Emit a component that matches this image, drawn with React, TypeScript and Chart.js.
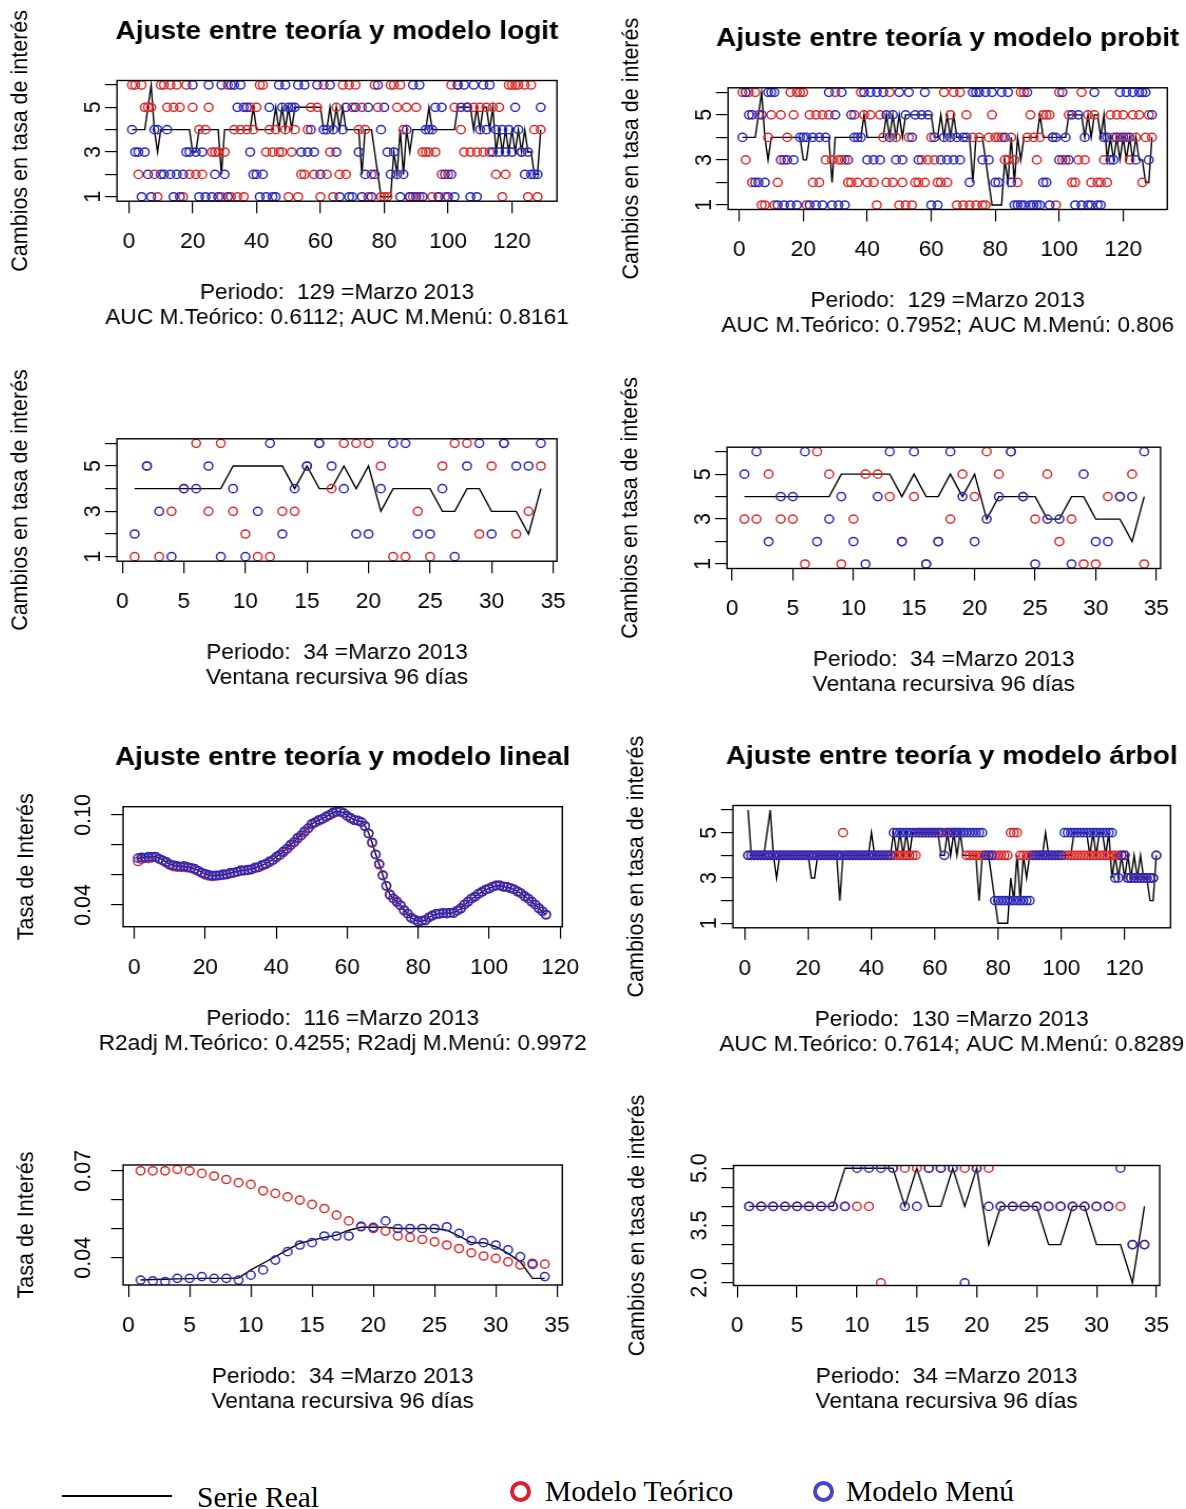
import React, { useEffect, useRef } from 'react';
import { Chart, registerables } from 'chart.js';

Chart.register(...registerables);

// ---------------- data ----------------
// Periods 1..129: real series (changes in interest rate)
const realSerie129 = [
  4, 4, 4, 4, 4, 5, 6, 4, 3, 4,
  4, 4, 4, 4, 4, 4, 4, 4, 4, 3,
  3, 4, 4, 4, 4, 4, 4, 4, 2, 4,
  4, 4, 4, 4, 4, 4, 4, 4, 5, 4,
  4, 4, 4, 4, 4, 5, 4, 5, 4, 5,
  4, 5, 5, 5, 5, 5, 5, 5, 5, 5,
  4, 4, 5, 4, 5, 4, 5, 4, 4, 4,
  4, 4, 2, 4, 4, 4, 3, 2, 1, 1,
  1, 1, 3, 2, 4, 2, 4, 3, 4, 4,
  4, 4, 4, 5, 4, 4, 4, 4, 4, 4,
  4, 4, 5, 5, 5, 5, 5, 4, 5, 4,
  5, 5, 4, 5, 3, 4, 3, 4, 3, 4,
  3, 4, 3, 4, 3, 3, 2, 2, 4,
];
const logitTeorico = [
  6, 6, 2, 6, 5, 5, 5, 2, 1, 6,
  6, 5, 6, 5, 6, 5, 1, 6, 2, 5,
  2, 4, 2, 4, 5, 3, 3, 3, 1, 3,
  6, 1, 4, 1, 4, 1, 4, 5, 4, 5,
  6, 6, 3, 4, 3, 4, 3, 3, 4, 1,
  3, 4, 1, 2, 2, 4, 5, 2, 5, 1,
  6, 2, 3, 1, 5, 2, 6, 2, 6, 5,
  6, 4, 5, 4, 1, 2, 6, 5, 1, 1,
  1, 6, 6, 5, 6, 4, 5, 1, 1, 5,
  1, 3, 3, 3, 1, 3, 1, 2, 1, 2,
  6, 5, 6, 4, 3, 5, 3, 5, 3, 5,
  3, 5, 3, 5, 2, 5, 1, 2, 6, 6,
  6, 6, 3, 6, 1, 6, 4, 1, 4,
];
const logitMenu = [
  4, 3, 3, 1, 3, 2, 1, 4, 4, 2,
  2, 4, 2, 1, 2, 1, 2, 3, 3, 6,
  3, 1, 3, 1, 6, 1, 2, 1, 6, 2,
  1, 6, 6, 5, 6, 5, 5, 3, 2, 2,
  1, 2, 1, 5, 1, 1, 6, 5, 6, 5,
  5, 5, 6, 3, 6, 3, 4, 3, 6, 2,
  4, 4, 6, 4, 3, 1, 4, 5, 1, 1,
  5, 3, 1, 2, 5, 1, 2, 6, 4, 5,
  3, 2, 3, 2, 1, 2, 4, 1, 6, 1,
  6, 1, 4, 4, 4, 5, 1, 5, 2, 1,
  2, 1, 6, 5, 6, 5, 1, 6, 1, 4,
  6, 4, 6, 3, 4, 3, 4, 3, 4, 3,
  5, 4, 3, 2, 3, 2, 2, 2, 5,
];
const probitTeorico = [
  6, 3, 6, 2, 6, 5, 1, 1, 4, 5,
  1, 2, 5, 3, 4, 6, 5, 6, 6, 6,
  1, 5, 2, 5, 2, 5, 3, 5, 3, 6,
  3, 3, 3, 2, 2, 5, 2, 6, 5, 2,
  5, 2, 1, 5, 4, 2, 6, 2, 4, 1,
  2, 1, 4, 1, 2, 2, 3, 2, 3, 4,
  3, 2, 2, 6, 2, 5, 6, 1, 6, 1,
  5, 1, 4, 1, 4, 1, 1, 4, 5, 4,
  4, 4, 3, 3, 4, 3, 2, 6, 6, 4,
  5, 4, 3, 4, 5, 5, 5, 4, 1, 6,
  3, 3, 5, 2, 2, 3, 6, 3, 5, 2,
  5, 2, 2, 3, 2, 5, 4, 5, 4, 5,
  4, 3, 5, 4, 5, 2, 4, 5, 4,
];
const probitMenu = [
  4, 6, 5, 5, 2, 2, 5, 2, 6, 6,
  6, 1, 3, 1, 3, 1, 3, 1, 4, 4,
  4, 1, 4, 1, 4, 1, 4, 6, 1, 5,
  1, 6, 1, 3, 5, 4, 4, 4, 6, 3,
  6, 3, 6, 3, 6, 5, 4, 5, 3, 6,
  3, 5, 6, 4, 5, 3, 5, 6, 5, 1,
  4, 1, 3, 4, 3, 4, 3, 4, 3, 4,
  4, 2, 6, 6, 6, 3, 6, 3, 6, 2,
  2, 6, 4, 6, 2, 1, 1, 1, 1, 6,
  1, 1, 1, 1, 2, 2, 1, 4, 4, 3,
  6, 4, 3, 5, 1, 5, 1, 4, 1, 1,
  6, 1, 1, 4, 4, 3, 3, 4, 6, 4,
  6, 4, 6, 3, 6, 6, 6, 3, 5,
];

// Recursive window, 34 periods
const realVentana34 = [4, 4, 4, 4, 4, 4, 4, 4, 5, 5, 5, 5, 5, 4, 5, 4, 4, 5, 4, 5, 3, 4, 4, 4, 4, 3, 3, 4, 4, 3, 3, 3, 2, 4];
const logitVentTeorico = [1, 5, 1, 3, 4, 6, 3, 6, 3, 2, 1, 1, 3, 3, 5, 6, 4, 6, 6, 6, 5, 1, 1, 3, 1, 5, 6, 6, 2, 5, 6, 2, 3, 5];
const logitVentMenu = [2, 5, 3, 1, 4, 4, 5, 1, 4, 1, 3, 6, 2, 4, 5, 6, 5, 4, 2, 2, 4, 6, 6, 2, 2, 4, 1, 5, 6, 2, 6, 5, 5, 6];
const probitVentTeorico = [3, 3, 5, 3, 3, 1, 6, 5, 1, 3, 5, 5, 4, 2, 4, 1, 2, 3, 5, 4, 6, 5, 6, 4, 3, 5, 2, 3, 1, 1, 4, 4, 5, 1];
const probitVentMenu = [5, 6, 2, 4, 4, 6, 2, 3, 4, 2, 1, 4, 6, 2, 6, 1, 2, 6, 4, 2, 3, 4, 6, 4, 1, 3, 3, 1, 5, 2, 2, 4, 4, 6];

// Interest rate level, 116 periods
const tasaReal116 = [
  0.0705, 0.0715, 0.0720, 0.0718, 0.0722, 0.0725, 0.0712, 0.0700, 0.0685, 0.0672,
  0.0662, 0.0658, 0.0660, 0.0657, 0.0655, 0.0650, 0.0640, 0.0632, 0.0618, 0.0605,
  0.0598, 0.0594, 0.0596, 0.0600, 0.0602, 0.0606, 0.0612, 0.0618, 0.0625, 0.0630,
  0.0632, 0.0633, 0.0640, 0.0648, 0.0655, 0.0665, 0.0676, 0.0688, 0.0703, 0.0720,
  0.0738, 0.0755, 0.0778, 0.0800, 0.0822, 0.0845, 0.0868, 0.0890, 0.0915, 0.0940,
  0.0955, 0.0965, 0.0978, 0.0988, 0.1002, 0.1015, 0.1025, 0.1022, 0.1015, 0.0995,
  0.0978, 0.0968, 0.0962, 0.0955, 0.0925, 0.0880, 0.0815, 0.0740, 0.0670, 0.0600,
  0.0525, 0.0470, 0.0440, 0.0422, 0.0395, 0.0365, 0.0340, 0.0315, 0.0300, 0.0290,
  0.0292, 0.0298, 0.0315, 0.0330, 0.0338, 0.0342, 0.0345, 0.0344, 0.0346, 0.0348,
  0.0360, 0.0378, 0.0400, 0.0422, 0.0440, 0.0456, 0.0472, 0.0488, 0.0500, 0.0510,
  0.0520, 0.0530, 0.0528, 0.0522, 0.0518, 0.0512, 0.0502, 0.0490, 0.0475, 0.0458,
  0.0440, 0.0422, 0.0400, 0.0378, 0.0355, 0.0335,
];
const tasaTeorico116 = [
  0.0690, 0.0705, 0.0712, 0.0710, 0.0716, 0.0720, 0.0706, 0.0694, 0.0680, 0.0666,
  0.0656, 0.0652, 0.0653, 0.0650, 0.0648, 0.0644, 0.0634, 0.0626, 0.0612, 0.0600,
  0.0593, 0.0590, 0.0592, 0.0596, 0.0598, 0.0602, 0.0608, 0.0614, 0.0620, 0.0626,
  0.0628, 0.0630, 0.0636, 0.0644, 0.0650, 0.0660, 0.0670, 0.0682, 0.0698, 0.0714,
  0.0732, 0.0750, 0.0772, 0.0794, 0.0816, 0.0840, 0.0862, 0.0884, 0.0910, 0.0934,
  0.0950, 0.0960, 0.0972, 0.0984, 0.0998, 0.1010, 0.1020, 0.1020, 0.1012, 0.0994,
  0.0976, 0.0966, 0.0960, 0.0952, 0.0922, 0.0878, 0.0812, 0.0738, 0.0668, 0.0600,
  0.0526, 0.0472, 0.0442, 0.0425, 0.0398, 0.0368, 0.0342, 0.0318, 0.0302, 0.0293,
  0.0294, 0.0300, 0.0316, 0.0332, 0.0340, 0.0344, 0.0346, 0.0346, 0.0348, 0.0350,
  0.0362, 0.0380, 0.0402, 0.0424, 0.0442, 0.0458, 0.0474, 0.0490, 0.0502, 0.0512,
  0.0522, 0.0532, 0.0530, 0.0524, 0.0520, 0.0514, 0.0504, 0.0492, 0.0477, 0.0460,
  0.0442, 0.0424, 0.0402, 0.0380, 0.0357, 0.0338,
];
const tasaMenu116 = [
  0.0712, 0.0718, 0.0716, 0.0722, 0.0720, 0.0722, 0.0708, 0.0698, 0.0688, 0.0670,
  0.0665, 0.0660, 0.0656, 0.0660, 0.0652, 0.0648, 0.0642, 0.0628, 0.0615, 0.0608,
  0.0600, 0.0596, 0.0598, 0.0598, 0.0605, 0.0604, 0.0615, 0.0616, 0.0622, 0.0632,
  0.0630, 0.0636, 0.0638, 0.0650, 0.0652, 0.0668, 0.0674, 0.0690, 0.0700, 0.0722,
  0.0735, 0.0758, 0.0775, 0.0802, 0.0820, 0.0848, 0.0865, 0.0893, 0.0912, 0.0942,
  0.0952, 0.0968, 0.0975, 0.0990, 0.1000, 0.1018, 0.1022, 0.1024, 0.1012, 0.0992,
  0.0980, 0.0965, 0.0964, 0.0952, 0.0928, 0.0876, 0.0818, 0.0736, 0.0674, 0.0596,
  0.0528, 0.0466, 0.0444, 0.0418, 0.0398, 0.0362, 0.0343, 0.0312, 0.0302, 0.0288,
  0.0295, 0.0296, 0.0318, 0.0328, 0.0340, 0.0340, 0.0347, 0.0342, 0.0348, 0.0346,
  0.0363, 0.0375, 0.0403, 0.0420, 0.0443, 0.0454, 0.0475, 0.0486, 0.0503, 0.0508,
  0.0523, 0.0528, 0.0530, 0.0520, 0.0520, 0.0510, 0.0504, 0.0488, 0.0477, 0.0456,
  0.0443, 0.0420, 0.0402, 0.0376, 0.0358, 0.0333,
];

// Tree model, 130 periods
const realSerie130 = [
  6, 4, 4, 4, 4, 4, 5, 6, 4, 3,
  4, 4, 4, 4, 4, 4, 4, 4, 4, 4,
  3, 3, 4, 4, 4, 4, 4, 4, 4, 2,
  4, 4, 4, 4, 4, 4, 4, 4, 4, 5,
  4, 4, 4, 4, 4, 4, 5, 4, 5, 4,
  5, 4, 5, 5, 5, 5, 5, 5, 5, 5,
  5, 4, 4, 5, 4, 5, 4, 5, 4, 4,
  4, 4, 4, 2, 4, 4, 4, 3, 2, 1,
  1, 1, 1, 3, 2, 4, 2, 4, 3, 4,
  4, 4, 4, 4, 5, 4, 4, 4, 4, 4,
  4, 4, 4, 5, 5, 5, 5, 5, 4, 5,
  4, 5, 5, 4, 5, 3, 4, 3, 4, 3,
  4, 3, 4, 3, 4, 3, 3, 2, 2, 4,
];
const arbolTeorico = [
  4, 4, 4, 4, 4, 4, 4, 4, 4, 4,
  4, 4, 4, 4, 4, 4, 4, 4, 4, 4,
  4, 4, 4, 4, 4, 4, 4, 4, 4, 4,
  5, 4, 4, 4, 4, 4, 4, 4, 4, 4,
  4, 4, 4, 4, 4, 4, 4, 4, 4, 4,
  4, 4, 4, 4, 5, 5, 5, 5, 5, 5,
  5, 5, 5, 5, 5, 5, 5, 5, 5, 4,
  4, 4, 4, 4, 4, 4, 4, 4, 4, 4,
  4, 4, 4, 5, 5, 5, 4, 4, 4, 4,
  4, 4, 4, 4, 4, 4, 4, 4, 4, 4,
  4, 4, 4, 4, 4, 4, 4, 4, 4, 4,
  4, 4, 4, 4, 4, 4, 4, 4, 4, 4,
  3, 3, 3, 3, 3, 3, 3, 3, 3, 4,
];
const arbolMenu = [
  4, 4, 4, 4, 4, 4, 4, 4, 4, 4,
  4, 4, 4, 4, 4, 4, 4, 4, 4, 4,
  4, 4, 4, 4, 4, 4, 4, 4, 4, 4,
  4, 4, 4, 4, 4, 4, 4, 4, 4, 4,
  4, 4, 4, 4, 4, 4, 5, 5, 5, 5,
  5, 5, 5, 5, 5, 5, 5, 5, 5, 5,
  5, 5, 4, 5, 5, 5, 5, 5, 5, 5,
  5, 5, 5, 5, 5, 4, 4, 4, 2, 2,
  2, 2, 2, 2, 2, 2, 2, 2, 2, 2,
  4, 4, 4, 4, 4, 4, 4, 4, 4, 4,
  5, 5, 5, 5, 5, 5, 5, 5, 5, 5,
  5, 5, 5, 5, 5, 5, 3, 3, 4, 4,
  3, 3, 3, 3, 3, 3, 3, 3, 3, 4,
];

// Interest rate window, 34 periods
const tasaVentReal34 = [
  0.0323, 0.0325, 0.0326, 0.0327, 0.0328, 0.0329, 0.0329, 0.0329, 0.0330, 0.0358,
  0.0381, 0.0404, 0.0427, 0.0450, 0.0461, 0.0470, 0.0478, 0.0495, 0.0505, 0.0505,
  0.0505, 0.0501, 0.0501, 0.0501, 0.0501, 0.0495, 0.0475, 0.0452, 0.0452, 0.0438,
  0.0415, 0.0386, 0.0329, 0.0329,
];
const tasaVentTeorico34 = [
  0.0700, 0.0700, 0.0700, 0.0705, 0.0700, 0.0691, 0.0682, 0.0670, 0.0659, 0.0653,
  0.0631, 0.0622, 0.0610, 0.0599, 0.0584, 0.0570, 0.0547, 0.0527, 0.0509, 0.0501,
  0.0492, 0.0475, 0.0470, 0.0463, 0.0455, 0.0444, 0.0432, 0.0417, 0.0406, 0.0398,
  0.0386, 0.0375, 0.0381, 0.0378,
];
const tasaVentMenu34 = [
  0.0323, 0.0320, 0.0318, 0.0329, 0.0329, 0.0335, 0.0329, 0.0329, 0.0323, 0.0340,
  0.0358, 0.0392, 0.0421, 0.0444, 0.0452, 0.0475, 0.0475, 0.0475, 0.0507, 0.0505,
  0.0527, 0.0501, 0.0501, 0.0501, 0.0501, 0.0507, 0.0484, 0.0459, 0.0452, 0.0444,
  0.0427, 0.0404, 0.0377, 0.0335,
];

// Tree model window, 34 periods
const arbolVentTeorico34 = [4, 4, 4, 4, 4, 4, 4, 4, 4, 4, 4, 2, 5, 5, 5, 5, 5, 5, 5, 5, 5, 4, 4, 4, 4, 4, 4, 4, 4, 4, 4, 4, 3, 3];
const arbolVentMenu34 = [4, 4, 4, 4, 4, 4, 4, 4, 4, 5, 5, 5, 5, 4, 4, 5, 5, 5, 2, 5, 4, 4, 4, 4, 4, 4, 4, 4, 4, 4, 4, 5, 3, 3];

// ticks
const xTicksLargo = [0, 20, 40, 60, 80, 100, 120];
const xTicksCorto = [0, 5, 10, 15, 20, 25, 30, 35];
const yTicksCambios = [1, 2, 3, 4, 5, 6];
const yLabelsCambios = ['1', '', '3', '', '5', ''];
const yTicksTasa = [0.04, 0.06, 0.08, 0.10];
const yLabelsTasa = ['0.04', '', '', '0.10'];
const yTicksTasaVent = [0.04, 0.05, 0.06, 0.07];
const yLabelsTasaVent = ['0.04', '', '', '0.07'];
const yTicksArbolVent = [2, 2.5, 3, 3.5, 4, 4.5, 5];
const yLabelsArbolVent = ['2.0', '', '', '3.5', '', '', '5.0'];

// ---------------- styling / layout ----------------
const SX = 1.055; // horizontal stretch of the original picture
const SANS = "'Liberation Sans', Arial, Helvetica, sans-serif";
const SERIF = "'Liberation Serif', 'Times New Roman', Times, serif";
const BASE = 21.5;
const RED = '#dc2a2a';
const BLUE = '#2a2ac0';

type PanelSpec = {
  box: [number, number, number, number];
  canvasRight: number;
  xMin: number; xMax: number; xTicks: number[];
  yMin: number; yMax: number; yTicks: number[]; yLabels: string[];
  real: number[]; teo: number[]; menu: number[];
  title?: string; ylabel: string; sub: [string, string];
};

const CAMBIOS = 'Cambios en tasa de interés';
const TASA = 'Tasa de Interés';
const VENTANA = 'Ventana recursiva 96 días';

const panels: PanelSpec[] = [
  {
    box: [117, 80.5, 557, 201.2], canvasRight: 600,
    xMin: -3.7, xMax: 134.1, xTicks: xTicksLargo,
    yMin: 0.8, yMax: 6.2, yTicks: yTicksCambios, yLabels: yLabelsCambios,
    real: realSerie129, teo: logitTeorico, menu: logitMenu,
    title: 'Ajuste entre teoría y modelo logit', ylabel: CAMBIOS,
    sub: ['Periodo:  129 =Marzo 2013', 'AUC M.Teórico: 0.6112; AUC M.Menú: 0.8161'],
  },
  {
    box: [728, 87.8, 1167, 209.5], canvasRight: 1186,
    xMin: -3.5, xMax: 133.8, xTicks: xTicksLargo,
    yMin: 0.8, yMax: 6.2, yTicks: yTicksCambios, yLabels: yLabelsCambios,
    real: realSerie129, teo: probitTeorico, menu: probitMenu,
    title: 'Ajuste entre teoría y modelo probit', ylabel: CAMBIOS,
    sub: ['Periodo:  129 =Marzo 2013', 'AUC M.Teórico: 0.7952; AUC M.Menú: 0.806'],
  },
  {
    box: [117, 438.8, 557, 561.2], canvasRight: 600,
    xMin: -0.43, xMax: 35.31, xTicks: xTicksCorto,
    yMin: 0.8, yMax: 6.2, yTicks: yTicksCambios, yLabels: yLabelsCambios,
    real: realVentana34, teo: logitVentTeorico, menu: logitVentMenu,
    ylabel: CAMBIOS, sub: ['Periodo:  34 =Marzo 2013', VENTANA],
  },
  {
    box: [727, 447.2, 1167, 568.5], canvasRight: 1186,
    xMin: -0.43, xMax: 35.35, xTicks: xTicksCorto,
    yMin: 0.8, yMax: 6.2, yTicks: yTicksCambios, yLabels: yLabelsCambios,
    real: realVentana34, teo: probitVentTeorico, menu: probitVentMenu,
    ylabel: CAMBIOS, sub: ['Periodo:  34 =Marzo 2013', VENTANA],
  },
  {
    box: [123, 806.7, 562, 926.7], canvasRight: 600,
    xMin: -3.18, xMax: 120.6, xTicks: xTicksLargo,
    yMin: 0.0255, yMax: 0.1055, yTicks: yTicksTasa, yLabels: yLabelsTasa,
    real: tasaReal116, teo: tasaTeorico116, menu: tasaMenu116,
    title: 'Ajuste entre teoría y modelo lineal', ylabel: TASA,
    sub: ['Periodo:  116 =Marzo 2013', 'R2adj M.Teórico: 0.4255; R2adj M.Menú: 0.9972'],
  },
  {
    box: [733, 805.5, 1171, 927.8], canvasRight: 1186,
    xMin: -3.79, xMax: 134.5, xTicks: xTicksLargo,
    yMin: 0.8, yMax: 6.2, yTicks: yTicksCambios, yLabels: yLabelsCambios,
    real: realSerie130, teo: arbolTeorico, menu: arbolMenu,
    title: 'Ajuste entre teoría y modelo árbol', ylabel: CAMBIOS,
    sub: ['Periodo:  130 =Marzo 2013', 'AUC M.Teórico: 0.7614; AUC M.Menú: 0.8289'],
  },
  {
    box: [123, 1165, 562, 1285], canvasRight: 600,
    xMin: -0.43, xMax: 35.43, xTicks: xTicksCorto,
    yMin: 0.0306, yMax: 0.0720, yTicks: yTicksTasaVent, yLabels: yLabelsTasaVent,
    real: tasaVentReal34, teo: tasaVentTeorico34, menu: tasaVentMenu34,
    ylabel: TASA, sub: ['Periodo:  34 =Marzo 2013', VENTANA],
  },
  {
    box: [733.5, 1165.5, 1171.5, 1285.5], canvasRight: 1186,
    xMin: -0.31, xMax: 35.27, xTicks: xTicksCorto,
    yMin: 1.93, yMax: 5.07, yTicks: yTicksArbolVent, yLabels: yLabelsArbolVent,
    real: realVentana34, teo: arbolVentTeorico34, menu: arbolVentMenu34,
    ylabel: CAMBIOS, sub: ['Periodo:  34 =Marzo 2013', VENTANA],
  },
];

function Panel({ p }: { p: PanelSpec }) {
  const ref = useRef<HTMLCanvasElement | null>(null);
  const [L, T, R, B] = p.box;
  const cLeft = Math.round(L - 112);
  const cTop = Math.round(T - 75);
  const attrW = Math.round((p.canvasRight - cLeft) / SX);
  const attrH = Math.round(B + 135 - cTop);
  const areaL = (L - cLeft) / SX;
  const areaR = (R - cLeft) / SX;
  const padTop = T - cTop;
  const xAxisH = cTop + attrH - B;

  useEffect(() => {
    const canvas = ref.current;
    if (!canvas) return;
    const toPts = (arr: number[]) => arr.map((v, i) => ({ x: i + 1, y: v }));
    const pointSet = (label: string, arr: number[], color: string) => ({
      label,
      data: toPts(arr),
      showLine: false,
      pointStyle: 'circle',
      pointRadius: 4.1,
      pointHoverRadius: 4.1,
      pointBorderWidth: 1.5,
      pointBorderColor: color,
      pointBackgroundColor: 'rgba(0,0,0,0)',
      borderColor: color,
      backgroundColor: 'rgba(0,0,0,0)',
    });

    const framePlugin = {
      id: 'frame',
      afterDatasetsDraw(chart: any) {
        const { ctx, chartArea: a } = chart;
        ctx.save();
        ctx.strokeStyle = '#000';
        ctx.lineWidth = 1.4;
        ctx.strokeRect(a.left, a.top, a.right - a.left, a.bottom - a.top);
        ctx.restore();
      },
    };
    const textPlugin = {
      id: 'panelText',
      afterDraw(chart: any) {
        const { ctx, chartArea: a } = chart;
        const cx = (a.left + a.right) / 2;
        ctx.save();
        ctx.fillStyle = '#000';
        ctx.textAlign = 'center';
        ctx.textBaseline = 'middle';
        if (p.title) {
          ctx.font = `bold 26.5px ${SANS}`;
          ctx.fillText(p.title, cx, a.top - 49);
        }
        ctx.font = `${BASE}px ${SANS}`;
        ctx.fillText(p.sub[0], cx, a.bottom + 92);
        ctx.fillText(p.sub[1], cx, a.bottom + 117);
        ctx.translate(a.left - 96 / SX, (a.top + a.bottom) / 2);
        ctx.rotate(-Math.PI / 2);
        ctx.fillText(p.ylabel, 0, 0);
        ctx.restore();
      },
    };

    const tickFont = { family: SANS, size: BASE };
    const chart = new Chart(canvas, {
      type: 'line',
      data: {
        datasets: [
          pointSet('Modelo Menú', p.menu, BLUE),
          pointSet('Modelo Teórico', p.teo, RED),
          {
            label: 'Serie Real',
            data: toPts(p.real),
            borderColor: '#000',
            borderWidth: 1.4,
            pointRadius: 0,
            pointHoverRadius: 0,
            tension: 0,
            fill: false,
          },
        ] as any,
      },
      options: {
        responsive: false,
        maintainAspectRatio: false,
        animation: false,
        devicePixelRatio: 1,
        events: [],
        layout: { padding: { left: 0, top: padTop, right: attrW - areaR, bottom: 0 } },
        plugins: {
          legend: { display: false },
          tooltip: { enabled: false },
          title: { display: false },
        },
        scales: {
          x: {
            type: 'linear',
            bounds: 'data',
            min: p.xMin,
            max: p.xMax,
            afterBuildTicks: (s: any) => { s.ticks = p.xTicks.map((v) => ({ value: v })); },
            afterFit: (s: any) => { s.height = xAxisH; },
            ticks: {
              autoSkip: false,
              maxRotation: 0,
              minRotation: 0,
              padding: 16,
              color: '#000',
              font: tickFont,
              callback: (_v: any, i: number) => String(p.xTicks[i]),
            },
            grid: { display: true, drawOnChartArea: false, drawTicks: true, tickLength: 12, color: '#000', lineWidth: 1.2 },
            border: { display: false },
          },
          y: {
            type: 'linear',
            bounds: 'data',
            min: p.yMin,
            max: p.yMax,
            afterBuildTicks: (s: any) => { s.ticks = p.yTicks.map((v) => ({ value: v })); },
            afterFit: (s: any) => { s.width = areaL; },
            ticks: {
              autoSkip: false,
              minRotation: 90,
              maxRotation: 90,
              crossAlign: 'center',
              padding: 5,
              color: '#000',
              font: tickFont,
              callback: (_v: any, i: number) => p.yLabels[i],
            },
            grid: { display: true, drawOnChartArea: false, drawTicks: true, tickLength: 11.4, color: '#000', lineWidth: 1.2 },
            border: { display: false },
          },
        },
      } as any,
      plugins: [framePlugin, textPlugin],
    });
    return () => chart.destroy();
  }, []);

  return (
    <canvas
      ref={ref}
      width={attrW}
      height={attrH}
      style={{ position: 'absolute', left: cLeft, top: cTop, width: attrW * SX, height: attrH }}
    />
  );
}

export default function App() {
  const legendText: React.CSSProperties = {
    position: 'absolute',
    font: `29.5px ${SERIF}`,
    lineHeight: '32px',
    whiteSpace: 'nowrap',
    color: '#000',
  };
  const ring = (color: string, cx: number, cy: number): React.CSSProperties => ({
    position: 'absolute',
    left: cx - 10.5,
    top: cy - 10.5,
    width: 21,
    height: 21,
    border: `4px solid ${color}`,
    borderRadius: '50%',
    boxSizing: 'border-box',
  });
  return (
    <div style={{ position: 'absolute', left: 0, top: 0, width: 1186, height: 1509, background: '#fff', overflow: 'hidden' }}>
      {panels.map((p, i) => (
        <Panel key={i} p={p} />
      ))}
      <div style={{ position: 'absolute', left: 62, top: 1495, width: 110, height: 0, borderTop: '2px solid #000' }} />
      <span style={{ ...legendText, left: 197, top: 1481 }}>Serie Real</span>
      <div style={ring('#dc1f2e', 520, 1491)} />
      <span style={{ ...legendText, left: 545, top: 1475 }}>Modelo Teórico</span>
      <div style={ring('#4646c4', 823, 1491)} />
      <span style={{ ...legendText, left: 846, top: 1475 }}>Modelo Menú</span>
    </div>
  );
}
